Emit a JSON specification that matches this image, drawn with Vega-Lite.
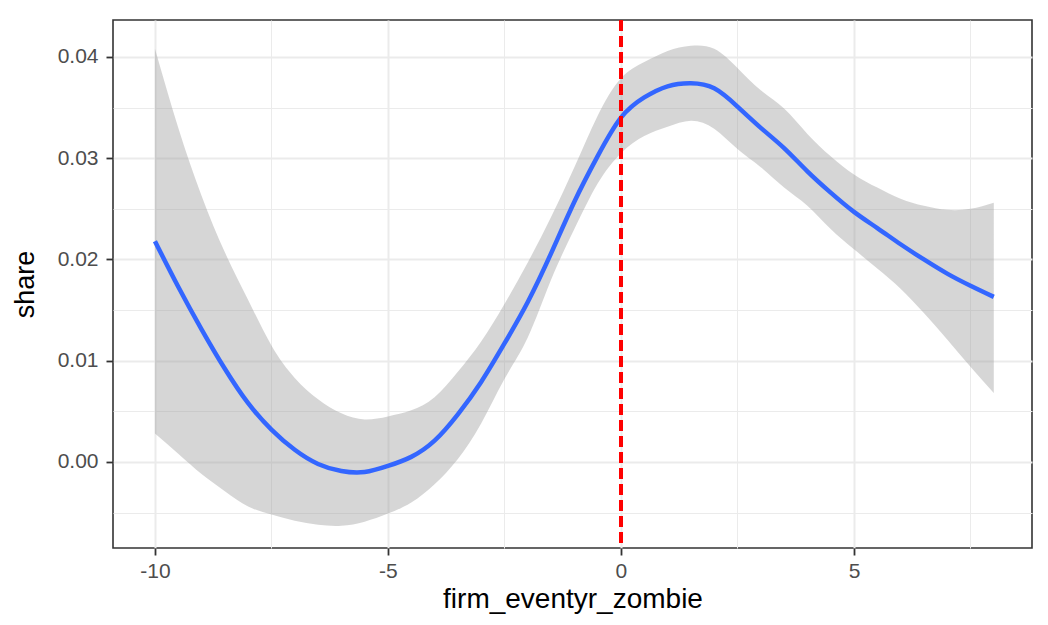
{
  "$schema": "https://vega.github.io/schema/vega-lite/v6.json",
  "width": 919,
  "height": 528,
  "autosize": {"type": "none"},
  "padding": {"left": 113, "top": 20, "right": 16, "bottom": 77},
  "background": "white",
  "config": {
    "font": "Liberation Sans",
    "view": {"stroke": "#333333", "strokeWidth": 1.6},
    "axis": {
      "domain": false,
      "labelColor": "#4D4D4D",
      "labelFontSize": 21,
      "titleColor": "#000000",
      "titleFontWeight": "normal",
      "tickColor": "#333333",
      "tickSize": 7,
      "tickWidth": 1.8
    }
  },
  "data": {
    "values": [
      {"x": -10, "share": 0.0218, "lo": 0.0028, "hi": 0.0408},
      {"x": -9.5, "share": 0.0173, "lo": 0.0008, "hi": 0.0330},
      {"x": -9, "share": 0.0131, "lo": -0.0012, "hi": 0.0263},
      {"x": -8.5, "share": 0.0092, "lo": -0.0029, "hi": 0.0207},
      {"x": -8, "share": 0.0058, "lo": -0.0044, "hi": 0.0160},
      {"x": -7.5, "share": 0.0032, "lo": -0.0052, "hi": 0.0115},
      {"x": -7, "share": 0.0012, "lo": -0.0058, "hi": 0.0083},
      {"x": -6.5, "share": -0.0002, "lo": -0.0062, "hi": 0.0062},
      {"x": -6, "share": -0.0009, "lo": -0.0063, "hi": 0.0048},
      {"x": -5.5, "share": -0.0010, "lo": -0.0059, "hi": 0.0042},
      {"x": -5, "share": -0.0004, "lo": -0.0051, "hi": 0.0045},
      {"x": -4.5, "share": 0.0005, "lo": -0.0040, "hi": 0.0051},
      {"x": -4, "share": 0.0021, "lo": -0.0022, "hi": 0.0064},
      {"x": -3.5, "share": 0.0047, "lo": 0.0003, "hi": 0.0089},
      {"x": -3, "share": 0.0079, "lo": 0.0038, "hi": 0.0119},
      {"x": -2.5, "share": 0.0117, "lo": 0.0082, "hi": 0.0156},
      {"x": -2, "share": 0.0158, "lo": 0.0123, "hi": 0.0197},
      {"x": -1.5, "share": 0.0206, "lo": 0.0180, "hi": 0.0242},
      {"x": -1, "share": 0.0257, "lo": 0.0230, "hi": 0.0291},
      {"x": -0.5, "share": 0.0302, "lo": 0.0275, "hi": 0.0342},
      {"x": 0, "share": 0.0340, "lo": 0.0305, "hi": 0.0379},
      {"x": 0.5, "share": 0.0360, "lo": 0.0322, "hi": 0.0395},
      {"x": 1, "share": 0.0371, "lo": 0.0331, "hi": 0.0406},
      {"x": 1.5, "share": 0.0374, "lo": 0.0337, "hi": 0.0411},
      {"x": 2, "share": 0.0369, "lo": 0.0329, "hi": 0.0408},
      {"x": 2.5, "share": 0.0351, "lo": 0.0309, "hi": 0.0389},
      {"x": 3, "share": 0.0330, "lo": 0.0291, "hi": 0.0367},
      {"x": 3.5, "share": 0.0310, "lo": 0.0271, "hi": 0.0349},
      {"x": 4, "share": 0.0287, "lo": 0.0253, "hi": 0.0324},
      {"x": 4.5, "share": 0.0266, "lo": 0.0230, "hi": 0.0302},
      {"x": 5, "share": 0.0247, "lo": 0.0210, "hi": 0.0284},
      {"x": 5.5, "share": 0.0231, "lo": 0.0191, "hi": 0.0271},
      {"x": 6, "share": 0.0215, "lo": 0.0171, "hi": 0.0260},
      {"x": 6.5, "share": 0.0200, "lo": 0.0147, "hi": 0.0253},
      {"x": 7, "share": 0.0186, "lo": 0.0121, "hi": 0.0249},
      {"x": 7.5, "share": 0.0174, "lo": 0.0094, "hi": 0.0250},
      {"x": 8, "share": 0.0163, "lo": 0.0068, "hi": 0.0256}
    ]
  },
  "encoding": {
    "x": {
      "field": "x",
      "type": "quantitative",
      "title": "firm_eventyr_zombie",
      "scale": {"domain": [-10.9, 8.82], "nice": false, "zero": false},
      "axis": {
        "values": [-10, -7.5, -5, -2.5, 0, 2.5, 5, 7.5],
        "labelExpr": "datum.value % 5 === 0 ? '' + datum.value : ''",
        "labelPadding": 5,
        "titleFontSize": 28,
        "titlePadding": 4,
        "gridColor": "#EBEBEB",
        "gridWidth": {"condition": {"test": "datum.value % 5 !== 0", "value": 1}, "value": 2},
        "tickOpacity": {"condition": {"test": "datum.value % 5 !== 0", "value": 0}, "value": 1}
      }
    },
    "y": {
      "type": "quantitative",
      "scale": {"domain": [-0.0085, 0.04365], "nice": false, "zero": false}
    }
  },
  "layer": [
    {
      "mark": {"type": "area", "color": "#999999", "opacity": 0.4, "interpolate": "natural"},
      "encoding": {
        "y": {
          "field": "lo",
          "type": "quantitative",
          "title": "share",
          "axis": {
            "values": [-0.005, 0, 0.005, 0.01, 0.015, 0.02, 0.025, 0.03, 0.035, 0.04],
            "labelExpr": "round(datum.value * 1000) % 10 === 0 ? format(datum.value, '.2f') : ''",
            "labelPadding": 8,
            "titleFontSize": 27,
            "titlePadding": 18,
            "gridColor": "#EBEBEB",
            "gridWidth": {"condition": {"test": "round(datum.value * 1000) % 10 !== 0", "value": 1}, "value": 2},
            "tickOpacity": {"condition": {"test": "round(datum.value * 1000) % 10 !== 0", "value": 0}, "value": 1}
          }
        },
        "y2": {"field": "hi"}
      }
    },
    {
      "mark": {"type": "line", "color": "#3366FF", "strokeWidth": 4.5, "interpolate": "natural"},
      "encoding": {"y": {"field": "share", "type": "quantitative"}}
    },
    {
      "mark": {"type": "rule", "color": "#FF0000", "strokeWidth": 2.5, "strokeDash": [11, 5]},
      "encoding": {"x": {"datum": 0}}
    }
  ]
}
